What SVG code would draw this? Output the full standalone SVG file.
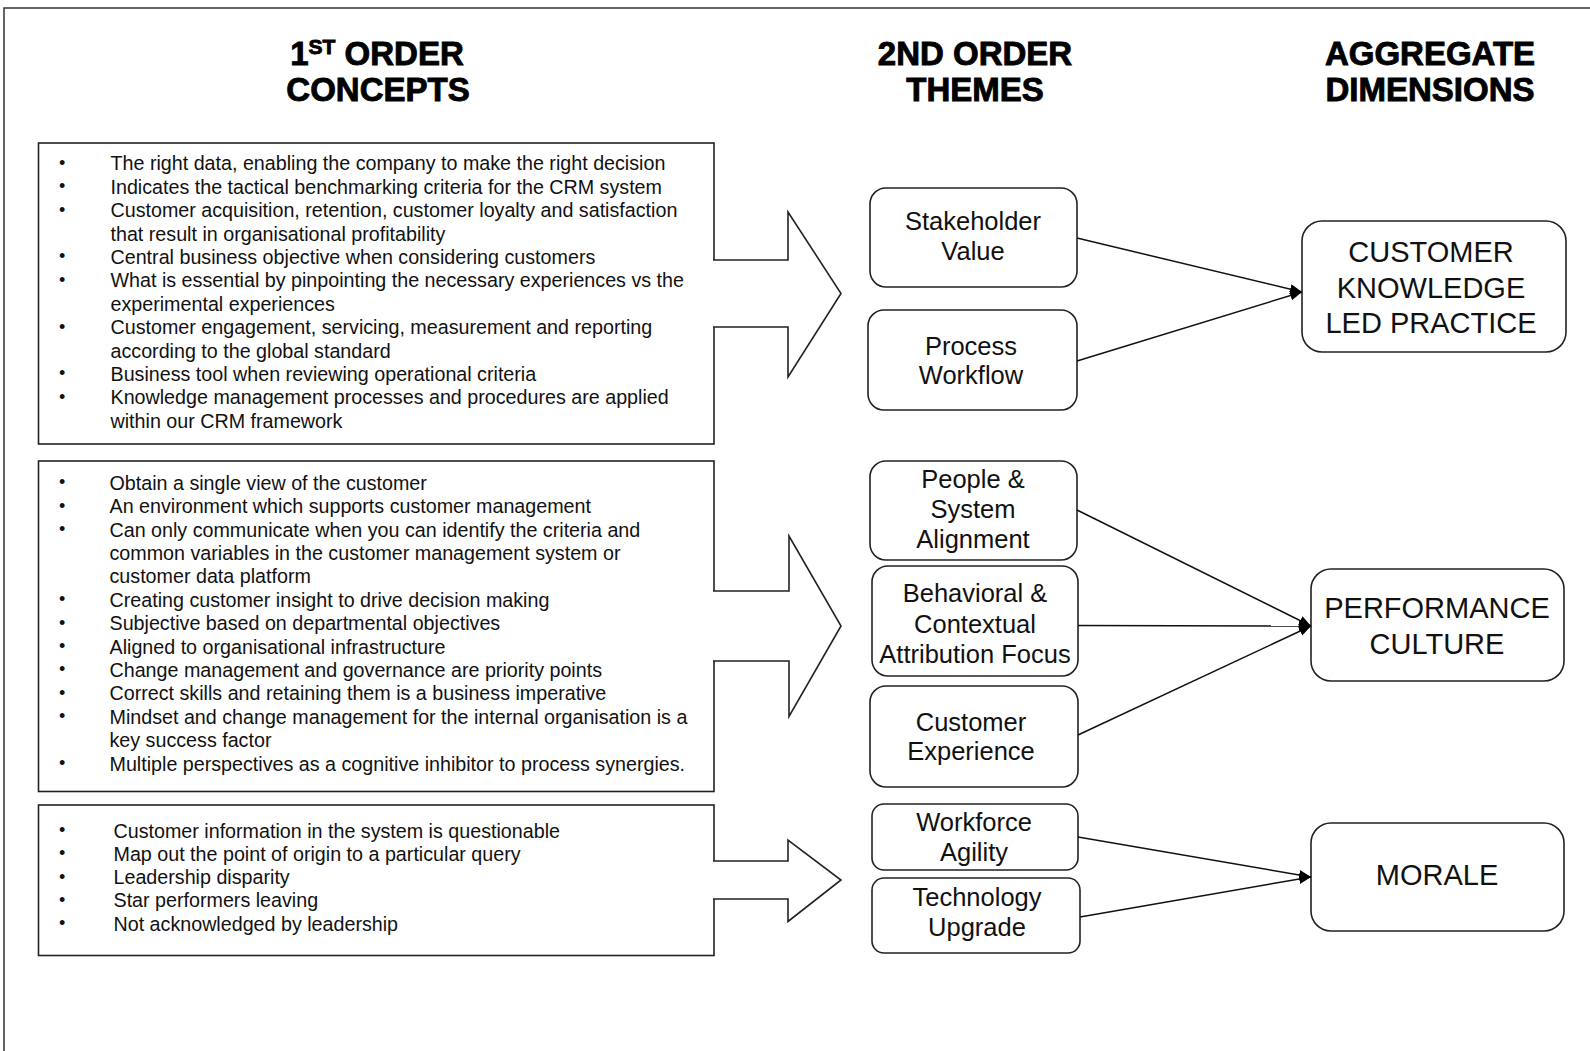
<svg xmlns="http://www.w3.org/2000/svg" width="1590" height="1051" viewBox="0 0 1590 1051">
  <style>
    .frame { fill: none; stroke: #333; stroke-width: 1.5; }
    .hdr { font-family: "Liberation Sans", Arial, sans-serif; font-weight: bold; font-size: 33px; fill: #000; stroke: #000; stroke-width: 0.9; text-anchor: middle; }
    .list rect { fill: #fff; stroke: #222; stroke-width: 1.6; }
    .list text { font-family: "Liberation Sans", Arial, sans-serif; font-size: 19.7px; fill: #111; }
    .list .dot { font-size: 18px; transform: translateY(-1.5px); }
    .block { fill: #fff; stroke: #222; stroke-width: 1.6; stroke-linejoin: miter; }
    .theme rect { fill: #fff; stroke: #222; stroke-width: 1.6; }
    .theme text { font-family: "Liberation Sans", Arial, sans-serif; font-size: 25.5px; fill: #111; text-anchor: middle; }
    .dim rect { fill: #fff; stroke: #222; stroke-width: 1.6; }
    .dim text { font-family: "Liberation Sans", Arial, sans-serif; font-size: 29px; fill: #111; text-anchor: middle; }
    .conn line { stroke: #111; stroke-width: 1.5; marker-end: url(#tip); }
  </style>
  <defs>
    <marker id="tip" markerUnits="userSpaceOnUse" markerWidth="14" markerHeight="12" refX="12" refY="5" orient="auto">
      <path d="M0,0 L12,5 L0,10 z" fill="#000"/>
    </marker>
  </defs>

  <rect width="1590" height="1051" fill="#fff"/>
  <!-- page frame (open at right and bottom edges) -->
  <rect class="frame" x="4" y="8" width="1600" height="1060"/>

  <!-- column headings -->
  <g id="headings">
    <text class="hdr" x="377" y="65">1<tspan font-size="21" dy="-11">ST</tspan><tspan dy="11"> ORDER</tspan></text>
    <text class="hdr" x="378" y="100.5">CONCEPTS</text>
    <text class="hdr" x="975" y="65">2ND ORDER</text>
    <text class="hdr" x="975" y="100.5">THEMES</text>
    <text class="hdr" x="1430" y="65">AGGREGATE</text>
    <text class="hdr" x="1430" y="100.5">DIMENSIONS</text>
  </g>

  <!-- first-order concept lists -->
  <g id="concepts-1" class="list">
    <rect x="38.5" y="143" width="675.5" height="301"/>
    <text class="dot" x="59" y="170.3">•</text><text x="110.5" y="170.3">The right data, enabling the company to make the right decision</text>
    <text class="dot" x="59" y="193.7">•</text><text x="110.5" y="193.7">Indicates the tactical benchmarking criteria for the CRM system</text>
    <text class="dot" x="59" y="217.1">•</text><text x="110.5" y="217.1">Customer acquisition, retention, customer loyalty and satisfaction</text>
    <text x="110.5" y="240.5">that result in organisational profitability</text>
    <text class="dot" x="59" y="263.9">•</text><text x="110.5" y="263.9">Central business objective when considering customers</text>
    <text class="dot" x="59" y="287.3">•</text><text x="110.5" y="287.3">What is essential by pinpointing the necessary experiences vs the</text>
    <text x="110.5" y="310.7">experimental experiences</text>
    <text class="dot" x="59" y="334.1">•</text><text x="110.5" y="334.1">Customer engagement, servicing, measurement and reporting</text>
    <text x="110.5" y="357.5">according to the global standard</text>
    <text class="dot" x="59" y="380.9">•</text><text x="110.5" y="380.9">Business tool when reviewing operational criteria</text>
    <text class="dot" x="59" y="404.3">•</text><text x="110.5" y="404.3">Knowledge management processes and procedures are applied</text>
    <text x="110.5" y="427.7">within our CRM framework</text>
  </g>

  <g id="concepts-2" class="list">
    <rect x="38.5" y="461" width="675.5" height="330.5"/>
    <text class="dot" x="59" y="489.7">•</text><text x="109.5" y="489.7">Obtain a single view of the customer</text>
    <text class="dot" x="59" y="513.1">•</text><text x="109.5" y="513.1">An environment which supports customer management</text>
    <text class="dot" x="59" y="536.5">•</text><text x="109.5" y="536.5">Can only communicate when you can identify the criteria and</text>
    <text x="109.5" y="559.9">common variables in the customer management system or</text>
    <text x="109.5" y="583.3">customer data platform</text>
    <text class="dot" x="59" y="606.7">•</text><text x="109.5" y="606.7">Creating customer insight to drive decision making</text>
    <text class="dot" x="59" y="630.1">•</text><text x="109.5" y="630.1">Subjective based on departmental objectives</text>
    <text class="dot" x="59" y="653.5">•</text><text x="109.5" y="653.5">Aligned to organisational infrastructure</text>
    <text class="dot" x="59" y="676.9">•</text><text x="109.5" y="676.9">Change management and governance are priority points</text>
    <text class="dot" x="59" y="700.3">•</text><text x="109.5" y="700.3">Correct skills and retaining them is a business imperative</text>
    <text class="dot" x="59" y="723.7">•</text><text x="109.5" y="723.7">Mindset and change management for the internal organisation is a</text>
    <text x="109.5" y="747.1">key success factor</text>
    <text class="dot" x="59" y="770.5">•</text><text x="109.5" y="770.5">Multiple perspectives as a cognitive inhibitor to process synergies.</text>
  </g>

  <g id="concepts-3" class="list">
    <rect x="38.5" y="805" width="675.5" height="150.5"/>
    <text class="dot" x="59" y="837.5">•</text><text x="113.5" y="837.5">Customer information in the system is questionable</text>
    <text class="dot" x="59" y="860.8">•</text><text x="113.5" y="860.8">Map out the point of origin to a particular query</text>
    <text class="dot" x="59" y="884.1">•</text><text x="113.5" y="884.1">Leadership disparity</text>
    <text class="dot" x="59" y="907.4">•</text><text x="113.5" y="907.4">Star performers leaving</text>
    <text class="dot" x="59" y="930.7">•</text><text x="113.5" y="930.7">Not acknowledged by leadership</text>
  </g>

  <!-- block arrows leading from each list to its themes -->
  <g id="block-arrows">
    <path class="block" d="M713,260 H788 V212 L841,293.5 L788,377 V327 H713"/>
    <path class="block" d="M713,591 H789 V536 L841,626 L789,716.5 V661 H713"/>
    <path class="block" d="M713,861 H788 V840 L841,880 L788,921.5 V899 H713"/>
  </g>

  <!-- second-order themes -->
  <g id="theme-stakeholder-value" class="theme">
    <rect x="870" y="188" width="207" height="99" rx="16"/>
    <text x="973" y="230">Stakeholder</text>
    <text x="973" y="259.5">Value</text>
  </g>
  <g id="theme-process-workflow" class="theme">
    <rect x="868" y="310" width="209" height="100" rx="16"/>
    <text x="971" y="354.8">Process</text>
    <text x="971" y="384.2">Workflow</text>
  </g>
  <g id="theme-people-system" class="theme">
    <rect x="870" y="461" width="207" height="99" rx="16"/>
    <text x="973" y="487.6">People &amp;</text>
    <text x="973" y="518">System</text>
    <text x="973" y="548.4">Alignment</text>
  </g>
  <g id="theme-behavioral" class="theme">
    <rect x="872" y="566" width="206" height="110" rx="16"/>
    <text x="975" y="602.2">Behavioral &amp;</text>
    <text x="975" y="632.6">Contextual</text>
    <text x="975" y="663">Attribution Focus</text>
  </g>
  <g id="theme-customer-experience" class="theme">
    <rect x="870" y="686" width="208" height="101" rx="16"/>
    <text x="971" y="731">Customer</text>
    <text x="971" y="760.4">Experience</text>
  </g>
  <g id="theme-workforce-agility" class="theme">
    <rect x="872" y="804" width="206" height="66" rx="12"/>
    <text x="974" y="831.4">Workforce</text>
    <text x="974" y="860.8">Agility</text>
  </g>
  <g id="theme-technology-upgrade" class="theme">
    <rect x="872" y="878" width="208" height="75" rx="12"/>
    <text x="977" y="906.4">Technology</text>
    <text x="977" y="935.8">Upgrade</text>
  </g>

  <!-- aggregate dimensions -->
  <g id="dim-customer-knowledge" class="dim">
    <rect x="1302" y="221" width="264" height="131" rx="20"/>
    <text x="1431" y="262">CUSTOMER</text>
    <text x="1431" y="297.5">KNOWLEDGE</text>
    <text x="1431" y="333">LED PRACTICE</text>
  </g>
  <g id="dim-performance-culture" class="dim">
    <rect x="1311" y="569" width="253" height="112" rx="20"/>
    <text x="1437" y="618">PERFORMANCE</text>
    <text x="1437" y="653.5">CULTURE</text>
  </g>
  <g id="dim-morale" class="dim">
    <rect x="1311" y="823" width="253" height="108" rx="20"/>
    <text x="1437" y="884.5">MORALE</text>
  </g>

  <!-- theme to dimension connectors -->
  <g id="connectors" class="conn">
    <line x1="1077" y1="238" x2="1302" y2="292"/>
    <line x1="1077" y1="361" x2="1302" y2="292"/>
    <line x1="1077" y1="510" x2="1311" y2="626"/>
    <line x1="1078" y1="625.5" x2="1311" y2="626"/>
    <line x1="1078" y1="735" x2="1311" y2="626"/>
    <line x1="1078" y1="837" x2="1311" y2="877"/>
    <line x1="1080" y1="917" x2="1311" y2="877"/>
  </g>
</svg>
